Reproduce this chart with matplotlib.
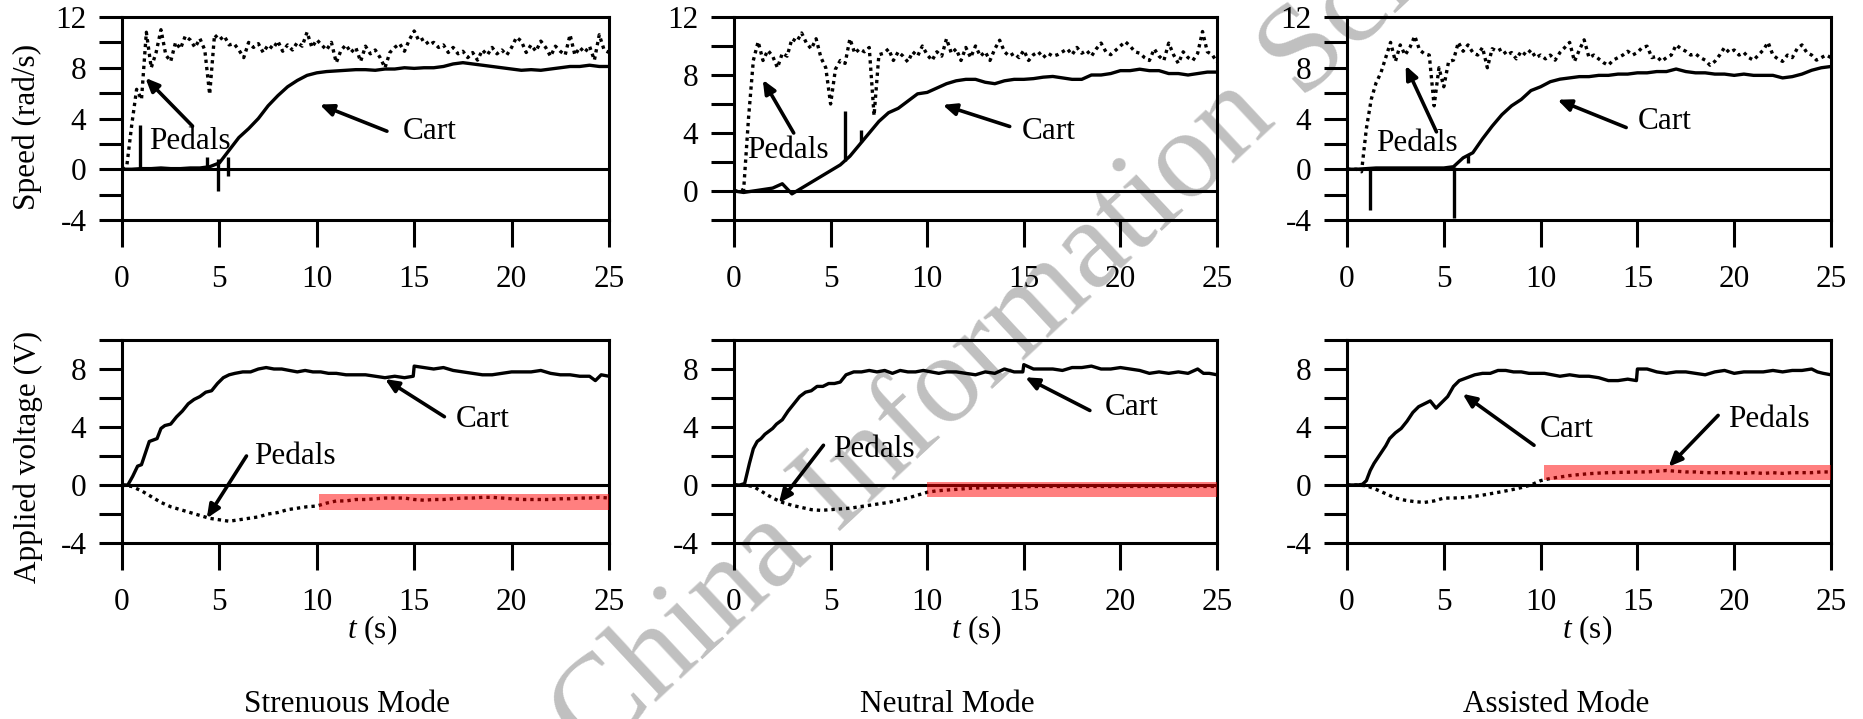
import numpy as np
import matplotlib
matplotlib.use("Agg")
import matplotlib.pyplot as plt
from matplotlib.patches import Rectangle

plt.rcParams['font.family'] = 'Liberation Serif'
plt.rcParams['mathtext.fontset'] = 'custom'
plt.rcParams['mathtext.rm'] = 'Liberation Serif'
plt.rcParams['mathtext.it'] = 'Liberation Serif:italic'

modes = ['Strenuous Mode', 'Neutral Mode', 'Assisted Mode']

# --- speed (rad/s), top row ---
t_fine = np.arange(0, 25.01, 0.25)   # pedal speed samples
t_half = np.arange(0, 25.01, 0.5)    # cart speed / pedal voltage samples

pedal_speed_strenuous = [
    0.0, 0.3, 3.5, 6.3, 5.5, 10.8, 8.0, 9.2, 11.0, 9.0,
    8.5, 10.0, 9.5, 10.5, 10.2, 9.6, 10.3, 9.4, 5.9, 10.6,
    10.2, 10.5, 9.8, 9.9, 9.4, 8.8, 10.0, 9.6, 9.9, 9.2,
    9.8, 9.5, 10.1, 9.3, 9.8, 9.4, 10.0, 9.7, 10.8, 9.6,
    10.2, 9.8, 9.4, 10.0, 8.4, 9.4, 9.8, 9.2, 9.6, 8.5,
    9.7, 9.1, 9.4, 8.8, 8.0, 9.2, 9.6, 9.9, 9.3, 10.2,
    10.9, 10.1, 10.3, 9.8, 10.0, 9.6, 9.8, 9.2, 9.6, 9.1,
    9.3, 8.8, 9.2, 8.6, 9.4, 9.0, 9.6, 9.1, 9.4, 9.0,
    9.6, 10.4, 10.1, 9.2, 9.8, 9.3, 10.1, 9.6, 8.9, 9.7,
    9.3, 9.0, 10.6, 9.0, 9.6, 9.2, 9.7, 8.6, 10.6, 9.4,
    9.2]
pedal_speed_neutral = [
    0.0, 0.0, 0.1, 5.0, 9.0, 10.3, 9.0, 9.7, 9.3, 8.5,
    9.5, 9.3, 10.5, 10.3, 10.9, 10.2, 9.8, 10.5, 9.2, 8.5,
    6.0, 8.4, 9.0, 8.8, 10.5, 9.5, 9.8, 9.6, 9.9, 5.2,
    9.4, 9.5, 9.8, 9.0, 9.6, 9.3, 8.9, 9.6, 9.3, 10.0,
    9.4, 9.0, 9.6, 9.3, 10.5, 9.5, 9.8, 9.0, 9.9, 9.2,
    10.0, 9.3, 9.6, 9.0, 9.8, 10.4, 9.6, 9.3, 9.5, 9.2,
    9.7, 9.0, 9.4, 9.6, 9.2, 9.5, 9.3, 9.4, 9.6, 9.8,
    9.4, 9.9, 9.5, 9.7, 9.3, 9.8, 10.2, 9.6, 9.4, 9.7,
    10.0, 10.3, 10.0, 9.6, 9.5, 9.2, 9.0, 9.8, 9.3, 9.0,
    10.2, 9.4, 8.8, 9.6, 9.2, 9.0, 9.5, 11.0, 9.6, 9.4,
    8.9]
pedal_speed_assisted = [
    0.0, 0.0, 0.0, -0.2, 3.2, 5.5, 6.8, 7.6, 8.8, 10.0,
    8.5, 9.8, 9.0, 9.6, 10.5, 9.4, 9.1, 9.0, 5.0, 8.0,
    6.5, 8.5, 8.6, 10.0, 9.3, 9.8, 9.2, 9.0, 9.6, 8.0,
    9.5, 9.3, 9.5, 9.0, 9.2, 8.7, 9.3, 9.0, 9.4, 8.8,
    9.0, 8.7, 9.0, 8.6, 9.2, 9.6, 10.0, 8.5, 9.4, 10.2,
    8.8, 9.0, 8.7, 8.4, 8.2, 8.6, 8.8, 9.0, 9.3, 9.0,
    9.2, 9.6, 9.7, 8.8, 8.9, 8.5, 8.8, 9.0, 9.8, 9.5,
    9.3, 9.0, 9.1, 8.8, 8.6, 8.2, 8.5, 9.0, 9.6, 9.2,
    9.4, 9.0, 9.2, 8.8, 8.6, 9.0, 9.4, 10.0, 9.0, 8.7,
    8.5, 9.0, 8.8, 9.5, 9.8, 9.2, 9.0, 8.6, 8.8, 9.0,
    8.8]

cart_speed_strenuous = [
    0.0, 0.0, 0.05, 0.05, 0.1, 0.05, 0.05, 0.1, 0.1, 0.2,
    0.5, 1.5, 2.5, 3.2, 4.0, 5.0, 5.8, 6.5, 7.0, 7.4,
    7.6, 7.7, 7.75, 7.8, 7.85, 7.85, 7.8, 7.9, 7.9, 8.0,
    7.95, 8.0, 8.0, 8.1, 8.3, 8.4, 8.3, 8.2, 8.1, 8.0,
    7.9, 7.8, 7.85, 7.8, 7.9, 8.0, 8.1, 8.1, 8.2, 8.1,
    8.1]
cart_speed_neutral = [
    0.0, -0.1, 0.0, 0.1, 0.2, 0.5, -0.2, 0.2, 0.6, 1.0,
    1.4, 1.8, 2.4, 3.2, 4.0, 4.8, 5.4, 5.7, 6.2, 6.7,
    6.8, 7.1, 7.4, 7.6, 7.7, 7.7, 7.5, 7.4, 7.6, 7.7,
    7.7, 7.75, 7.85, 7.9, 7.8, 7.7, 7.7, 8.0, 8.0, 8.1,
    8.3, 8.3, 8.4, 8.3, 8.3, 8.1, 8.1, 8.0, 8.1, 8.2,
    8.2]
cart_speed_assisted = [
    0.0, 0.0, 0.05, 0.1, 0.1, 0.1, 0.1, 0.1, 0.1, 0.1,
    0.1, 0.2, 0.9, 1.3, 2.4, 3.4, 4.3, 5.0, 5.5, 6.2,
    6.5, 6.9, 7.1, 7.2, 7.3, 7.3, 7.4, 7.4, 7.5, 7.5,
    7.6, 7.6, 7.7, 7.7, 7.9, 7.7, 7.6, 7.6, 7.5, 7.5,
    7.4, 7.5, 7.4, 7.4, 7.4, 7.2, 7.3, 7.5, 7.8, 8.0,
    8.1]

# sensor spikes on the cart speed trace: time, low end, high end
spike_t = [[0.92, 4.34, 4.93, 5.46], [5.72, 6.58], [1.18, 5.51, 6.23]]
spike_lo = [[0.0, 0.0, -1.7, -0.55], [2.1, 3.4], [-3.2, -3.85, 0.5]]
spike_hi = [[3.5, 1.0, 0.8, 1.0], [5.5, 4.2], [0.2, 0.2, 1.1]]

# --- applied voltage (V), bottom row ---
t_volt = [0.0, 0.3, 0.55, 0.8, 1.0, 1.2, 1.4, 1.6, 1.8, 2.0,
          2.2, 2.5, 2.8, 3.1, 3.4, 3.7, 4.0, 4.3, 4.6, 4.9,
          5.2, 5.5, 5.8, 6.2, 6.6, 7.0, 7.4, 7.8, 8.2, 8.6,
          9.0, 9.4, 9.8, 10.2, 10.6, 11.0, 11.5, 12.0, 12.5, 13.0,
          13.5, 14.0, 14.5, 14.95, 15.0, 15.5, 16.0, 16.5, 17.0, 17.5,
          18.0, 18.5, 19.0, 19.5, 20.0, 20.5, 21.0, 21.5, 22.0, 22.5,
          23.0, 23.5, 24.0, 24.3, 24.6, 25.0]
cart_volt_strenuous = [
    0.0, 0.0, 0.6, 1.3, 1.4, 2.2, 3.0, 3.1, 3.2, 3.9,
    4.1, 4.2, 4.7, 5.1, 5.6, 5.9, 6.1, 6.4, 6.5, 7.0,
    7.4, 7.6, 7.7, 7.8, 7.8, 8.0, 8.1, 8.0, 8.0, 7.9,
    7.8, 7.9, 7.8, 7.8, 7.7, 7.7, 7.6, 7.6, 7.6, 7.5,
    7.4, 7.5, 7.4, 7.5, 8.2, 8.1, 8.0, 8.1, 7.9, 7.8,
    7.7, 7.6, 7.6, 7.7, 7.8, 7.8, 7.8, 7.9, 7.7, 7.6,
    7.6, 7.5, 7.5, 7.2, 7.6, 7.5]
cart_volt_neutral = [
    0.0, 0.0, 0.1, 1.5, 2.5, 3.0, 3.2, 3.5, 3.7, 3.9,
    4.2, 4.5, 5.1, 5.6, 6.1, 6.4, 6.5, 6.8, 6.8, 7.0,
    7.0, 7.1, 7.6, 7.8, 7.8, 7.9, 7.8, 7.9, 7.7, 7.9,
    7.8, 7.8, 7.9, 7.8, 7.7, 7.8, 7.8, 7.7, 7.6, 7.8,
    7.7, 8.0, 7.8, 7.8, 8.3, 8.0, 8.0, 8.0, 7.9, 8.1,
    8.1, 8.2, 8.0, 8.0, 8.1, 8.0, 7.9, 7.7, 7.8, 7.7,
    7.8, 7.7, 8.0, 7.7, 7.7, 7.6]
cart_volt_assisted = [
    0.0, 0.0, 0.0, 0.05, 0.3, 1.0, 1.5, 1.9, 2.3, 2.7,
    3.2, 3.6, 3.9, 4.4, 5.0, 5.4, 5.6, 5.8, 5.3, 5.7,
    6.1, 6.8, 7.2, 7.4, 7.6, 7.7, 7.7, 7.9, 7.9, 7.8,
    7.8, 7.7, 7.7, 7.7, 7.6, 7.5, 7.6, 7.5, 7.5, 7.4,
    7.2, 7.2, 7.3, 7.2, 8.0, 8.0, 7.8, 7.7, 7.8, 7.8,
    7.7, 7.6, 7.8, 7.9, 7.7, 7.8, 7.8, 7.8, 7.9, 7.8,
    7.9, 7.9, 8.0, 7.8, 7.7, 7.6]

pedal_volt_strenuous = [
    0.0, -0.1, -0.4, -0.8, -1.2, -1.5, -1.7, -1.9, -2.1, -2.3,
    -2.4, -2.5, -2.4, -2.3, -2.2, -2.0, -1.9, -1.7, -1.6, -1.5,
    -1.45, -1.25, -1.1, -1.1, -1.0, -1.0, -0.95, -0.9, -0.9, -0.9,
    -1.0, -1.05, -1.0, -1.0, -0.95, -0.9, -0.9, -0.85, -0.85, -0.9,
    -0.95, -1.0, -1.0, -1.0, -1.0, -0.95, -0.95, -0.9, -0.9, -0.85,
    -0.9]
pedal_volt_neutral = [
    0.0, 0.0, -0.1, -0.5, -0.9, -1.2, -1.4, -1.55, -1.7, -1.75,
    -1.7, -1.65, -1.6, -1.5, -1.4, -1.3, -1.2, -1.05, -0.9, -0.7,
    -0.5, -0.4, -0.35, -0.3, -0.25, -0.2, -0.2, -0.15, -0.15, -0.12,
    -0.12, -0.1, -0.1, -0.1, -0.1, -0.1, -0.1, -0.1, -0.1, -0.1,
    -0.1, -0.1, -0.1, -0.1, -0.1, -0.1, -0.1, -0.1, -0.1, -0.1,
    -0.1]
pedal_volt_assisted = [
    0.0, 0.0, -0.05, -0.3, -0.6, -0.9, -1.05, -1.15, -1.2, -1.1,
    -0.9, -0.9, -0.87, -0.8, -0.7, -0.58, -0.46, -0.33, -0.18, 0.0,
    0.3, 0.45, 0.55, 0.65, 0.72, 0.78, 0.82, 0.85, 0.87, 0.88,
    0.9, 0.9, 0.95, 1.0, 0.95, 0.9, 0.9, 0.85, 0.85, 0.85,
    0.85, 0.8, 0.85, 0.8, 0.85, 0.8, 0.85, 0.85, 0.85, 0.9,
    0.9]

# steady-state band highlighted in red: start time, low, high
band_start = [10.1, 10.0, 10.2]
band_lo = [-1.7, -0.8, 0.35]
band_hi = [-0.65, 0.2, 1.4]

pedal_speed = [pedal_speed_strenuous, pedal_speed_neutral, pedal_speed_assisted]
cart_speed = [cart_speed_strenuous, cart_speed_neutral, cart_speed_assisted]
cart_volt = [cart_volt_strenuous, cart_volt_neutral, cart_volt_assisted]
pedal_volt = [pedal_volt_strenuous, pedal_volt_neutral, pedal_volt_assisted]
speed_ylim = [(-4, 12), (-2, 12), (-4, 12)]

# annotation placement: label centre, arrow tail, arrow tip (data units)
speed_notes = [
    [('Pedals', (3.5, 2.2), (3.62, 3.4), (1.2, 7.2)),
     ('Cart', (15.8, 3.0), (13.6, 3.0), (10.15, 5.1))],
    [('Pedals', (2.77, 2.8), (3.09, 4.0), (1.49, 7.67)),
     ('Cart', (16.27, 4.1), (14.27, 4.45), (10.8, 5.94))],
    [('Pedals', (3.6, 2.0), (4.62, 2.95), (3.03, 8.17)),
     ('Cart', (16.39, 3.8), (14.42, 3.29), (10.87, 5.48))],
]
volt_notes = [
    [('Cart', (18.5, 4.55), (16.55, 4.71), (13.5, 7.31)),
     ('Pedals', (8.9, 1.95), (6.39, 2.0), (4.35, -2.3))],
    [('Cart', (20.6, 5.37), (18.42, 5.14), (15.07, 7.43)),
     ('Pedals', (7.26, 2.47), (4.63, 2.74), (2.32, -1.26))],
    [('Cart', (11.34, 3.84), (9.66, 2.74), (5.97, 6.29)),
     ('Pedals', (21.79, 4.53), (19.17, 4.8), (16.61, 1.26))],
]

W, H = 1863, 719
FS = 22.5
LW = 2.4
fig = plt.figure(figsize=(W / 100, H / 100), dpi=100)

col_l = [122, 734, 1347]
col_r = [609, 1217, 1831]
row_t = [17, 340]
row_b = [220, 543]


def make_axes(c, r):
    return fig.add_axes([col_l[c] / W, 1 - row_b[r] / H,
                         (col_r[c] - col_l[c]) / W, (row_b[r] - row_t[r]) / H])


def style(ax, ylim):
    ax.set_xlim(0, 25)
    ax.set_ylim(*ylim)
    ax.set_xticks([0, 5, 10, 15, 20, 25])
    yt = list(range(ylim[0], ylim[1] + 1, 2))
    ax.set_yticks(yt)
    ax.set_yticklabels([str(v) if v % 4 == 0 else '' for v in yt])
    for s in ax.spines.values():
        s.set_linewidth(2.2)
    ax.tick_params(axis='x', direction='out', length=19.4, width=2.2, pad=13, labelsize=FS)
    ax.tick_params(axis='y', direction='out', length=16.6, width=2.2, pad=9, labelsize=FS)
    ax.axhline(0, color='k', lw=2.2, zorder=2)


def annotate(ax, notes):
    for txt, pos, tail, tip in notes:
        ax.text(pos[0], pos[1], txt, ha='center', va='center', fontsize=FS, zorder=6)
        ax.annotate('', xy=tip, xytext=tail,
                    arrowprops=dict(arrowstyle='-|>,head_length=0.8,head_width=0.35',
                                    color='k', lw=2.6, shrinkA=0, shrinkB=0),
                    zorder=6)


for c in range(3):
    # speed panel
    ax = make_axes(c, 0)
    style(ax, speed_ylim[c])
    ax.plot(t_fine, pedal_speed[c], color='k', lw=LW, ls=(0, (1, 1.2)), zorder=3)
    ax.plot(t_half, cart_speed[c], color='k', lw=LW, zorder=4)
    ax.vlines(spike_t[c], spike_lo[c], spike_hi[c], color='k', lw=LW, zorder=4)
    annotate(ax, speed_notes[c])

    # voltage panel
    ax = make_axes(c, 1)
    style(ax, (-4, 10))
    ax.plot(t_volt, cart_volt[c], color='k', lw=LW, zorder=4)
    ax.plot(t_half, pedal_volt[c], color='k', lw=LW, ls=(0, (1, 1.2)), zorder=3)
    ax.add_patch(Rectangle((band_start[c], band_lo[c]), 25 - band_start[c],
                           band_hi[c] - band_lo[c], facecolor='red', alpha=0.5,
                           lw=0, zorder=5))
    annotate(ax, volt_notes[c])

# axis labels and mode captions
fig.text(27 / W, 1 - 127 / H, 'Speed (rad/s)', rotation=90, ha='center', va='center', fontsize=FS)
fig.text(28 / W, 1 - 457 / H, 'Applied voltage (V)', rotation=90, ha='center', va='center', fontsize=FS)
for xc in [372, 976, 1587]:
    fig.text(xc / W, 1 - 630 / H, r'$t$ (s)', ha='center', va='center', fontsize=FS)
for xc, name in zip([347, 947, 1556], modes):
    fig.text(xc / W, 1 - 705 / H, name, ha='center', va='center', fontsize=FS)

# publisher watermark
fig.text(593 / W, -42 / H, 'China Information Science', rotation=43,
         rotation_mode='anchor', ha='left', va='baseline', fontsize=91,
         color='black', alpha=0.25, zorder=20)

fig.savefig('out.png', dpi=100)
